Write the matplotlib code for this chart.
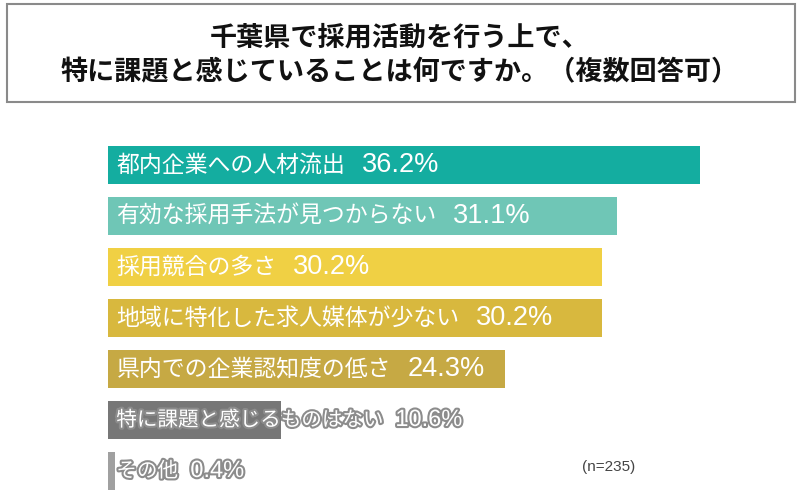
import matplotlib.pyplot as plt
import matplotlib.patches as mpatches
import matplotlib.patheffects as pe

plt.rcParams['font.family'] = ['Noto Sans CJK JP', 'DejaVu Sans']

title = '千葉県で採用活動を行う上で、\n特に課題と感じていることは何ですか。（複数回答可）'
labels = ['都内企業への人材流出', '有効な採用手法が見つからない', '採用競合の多さ',
          '地域に特化した求人媒体が少ない', '県内での企業認知度の低さ',
          '特に課題と感じるものはない', 'その他']
values = [36.2, 31.1, 30.2, 30.2, 24.3, 10.6, 0.4]
colors = ['#14ada0', '#6fc6b6', '#f0d044', '#d8b83e', '#c6a944', '#777777', '#a0a0a0']
outlined = [False, False, False, False, False, True, True]
note = '(n=235)'

fig = plt.figure(figsize=(8, 5.01), dpi=100)

# title box
box = mpatches.Rectangle((7 / 800, 1 - 102 / 501), 788 / 800, 98 / 501,
                         transform=fig.transFigure, fill=False,
                         edgecolor='#8a8a8a', linewidth=1.5)
fig.patches.append(box)
fig.text(0.5, 1 - 55 / 501, title, ha='center', va='center', fontsize=19.5,
         fontweight='bold', linespacing=1.3, color='#111111')

ax = fig.add_axes([108 / 800, 4.5 / 501, 692 / 800, 357 / 501])
ypos = list(range(len(values)))
ax.barh(ypos, values, height=0.745, color=colors, align='center')
ax.set_xlim(0, 692 / ((700 - 108) / 36.2))
ax.set_ylim(6.5, -0.5)
ax.axis('off')

for y, lab, val, out in zip(ypos, labels, values, outlined):
    if out:
        effects = [pe.withStroke(linewidth=3, foreground='#8c8c8c')]
        lsize, nsize, gap = 14.8, 17, 9
    else:
        effects = None
        lsize, nsize, gap = 16.5, 19.5, 12
    t = ax.annotate(lab, xy=(0, y), xytext=(6, 0), textcoords='offset points',
                    ha='left', va='center', fontsize=lsize, color='white',
                    path_effects=effects)
    ax.annotate('{}%'.format(val), xy=(1, 0.5), xycoords=t, xytext=(gap, 0),
                textcoords='offset points', ha='left', va='center',
                fontsize=nsize, color='white', family='Liberation Sans',
                path_effects=effects)

fig.text(582 / 800, 1 - 467 / 501, note, ha='left', va='center',
         fontsize=11, color='#444444', family='Liberation Sans')

plt.savefig('out.png', dpi=100)
plt.close()
